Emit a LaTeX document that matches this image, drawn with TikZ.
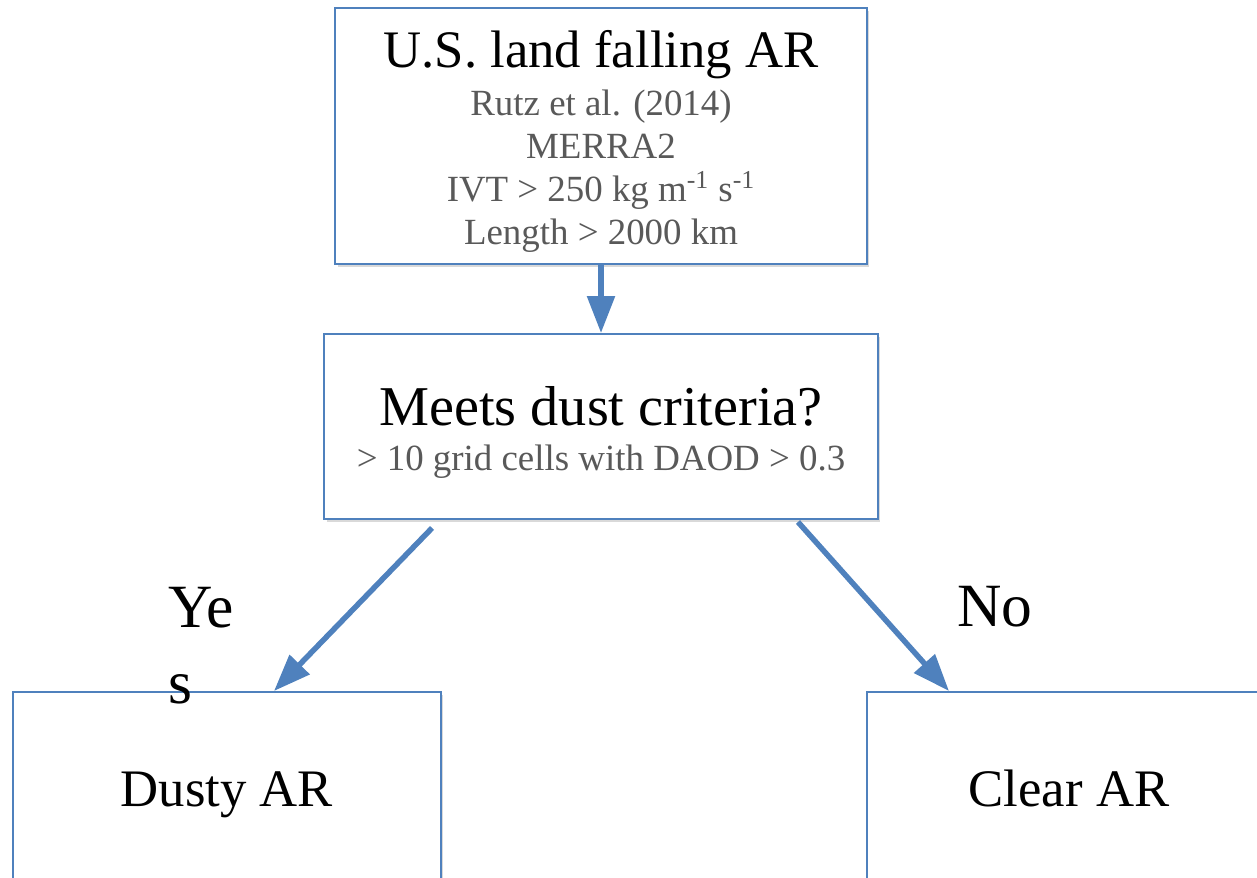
\documentclass[tikz,border=0pt]{standalone}
\usepackage{fontspec}
\setmainfont{Liberation Serif}
\usepackage{xcolor}
\usetikzlibrary{arrows.meta,shadows}
\definecolor{boxblue}{HTML}{4F81BD}
\definecolor{subgray}{HTML}{595959}
\tikzset{
  every node/.style={
    font=\fontsize{30}{36}\selectfont
  },
  stage/.style={
    shape=rectangle,
    draw=boxblue,
    line width=0.04cm,
    fill=white,
    drop shadow={opacity=0.3,shadow xshift=0.05cm,shadow yshift=-0.06cm},
    text centered,
    align=center
  },
  outcome/.style={
    stage,
    text height=20pt,
    text depth=6pt
  },
  answer/.style={
    inner sep=0pt,
    font=\fontsize{35}{43}\selectfont
  },
  flow/.style={
    draw=boxblue,
    line width=0.11cm,
    -{Triangle[length=0.74cm,width=0.54cm]}
  }
}

\begin{document}
\begin{tikzpicture}[x=0.02cm,y=-0.02cm]
  \useasboundingbox (0,0) rectangle (1257,877);
  \clip (0,0) rectangle (1257,877);
  % boxes
  \node [stage, minimum width=10.64cm, minimum height=5.12cm,
    font=\fontsize{21}{24.4}\selectfont, text=subgray] (landfall) at (601,136) {
    {\color{black}\fontsize{30}{36}\selectfont\rule{0pt}{27.5pt}U.S. land falling AR}\\[2.8pt]
    Rutz et al. (2014)\\
    MERRA2\\
    IVT > 250 kg m\textsuperscript{-1} s\textsuperscript{-1}\\
    Length > 2000 km
  };
  \node [stage, minimum width=11.08cm, minimum height=3.7cm,
    font=\fontsize{21}{26}\selectfont, text=subgray] (dust) at (601,426.5) {
    {\color{black}\fontsize{32}{38}\selectfont\rule{0pt}{29pt}Meets dust criteria?}\\
    > 10 grid cells with DAOD > 0.3
  };
  \node [outcome, minimum width=8.56cm, minimum height=4.08cm] (dusty) at (227,794) {Dusty AR};
  \node [outcome, minimum width=8.08cm, minimum height=4.08cm] (clear) at (1069,794) {Clear AR};
  % answers
  \node [answer, anchor=north west, align=left] (yes) at (168,587) {Ye\\s};
  \node [answer, anchor=base west] (no) at (957,626) {No};
  % arrows
  \draw [flow] (landfall.south) -- (dust.north);
  \draw [flow] ([xshift=2.18cm,yshift=-0.16cm]dust.south west) -- ([xshift=5.24cm]dusty.north west);
  \draw [flow] ([xshift=-1.62cm,yshift=-0.04cm]dust.south east) -- ([xshift=1.66cm]clear.north west);
\end{tikzpicture}
\end{document}
